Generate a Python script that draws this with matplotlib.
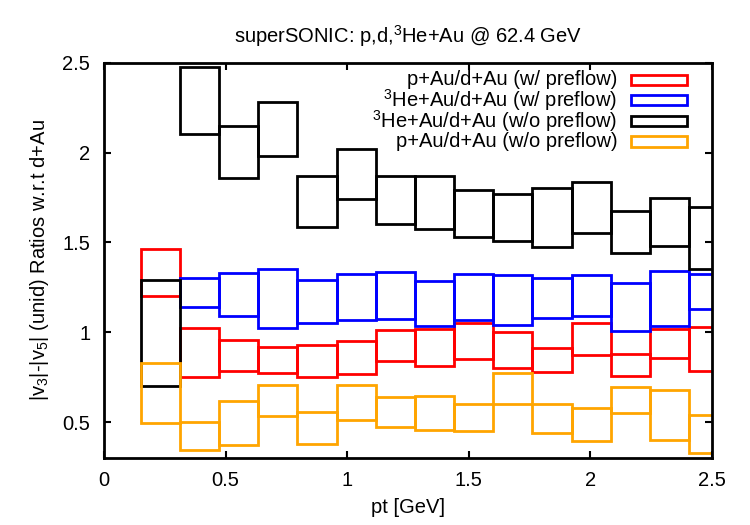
import numpy as np
import matplotlib
matplotlib.use("Agg")
import matplotlib.pyplot as plt
from matplotlib.patches import Rectangle

plt.rcParams['font.family'] = ['Liberation Sans', 'DejaVu Sans']
plt.rcParams['mathtext.default'] = 'regular'
plt.rcParams['font.size'] = 14.5

# pt bin centres and width [GeV]
pt = np.array([0.232, 0.393, 0.554, 0.715, 0.876, 1.037, 1.198, 1.359,
               1.520, 1.681, 1.842, 2.003, 2.164, 2.325, 2.486])
bin_w = 0.161

# p+Au/d+Au (w/ preflow): low, high
pau_lo = [1.203, 0.750, 0.786, 0.771, 0.751, 0.769, 0.842, 0.812, 0.851, 0.799, 0.780, 0.875, 0.758, 0.855, 0.786]
pau_hi = [1.462, 1.025, 0.959, 0.916, 0.931, 0.950, 1.015, 1.019, 1.054, 1.004, 0.913, 1.050, 0.881, 1.019, 1.028]

# 3He+Au/d+Au (w/ preflow), no first bin
he_lo = [np.nan, 1.140, 1.093, 1.021, 1.050, 1.069, 1.075, 1.032, 1.069, 1.041, 1.078, 1.092, 1.009, 1.034, 1.127]
he_hi = [np.nan, 1.302, 1.332, 1.350, 1.293, 1.326, 1.333, 1.283, 1.322, 1.320, 1.302, 1.317, 1.274, 1.339, 1.326]

# 3He+Au/d+Au (w/o preflow)
he_np_lo = [0.702, 2.104, 1.857, 1.978, 1.583, 1.740, 1.600, 1.572, 1.531, 1.507, 1.475, 1.550, 1.443, 1.479, 1.350]
he_np_hi = [1.293, 2.475, 2.149, 2.279, 1.870, 2.019, 1.870, 1.870, 1.792, 1.768, 1.801, 1.838, 1.674, 1.745, 1.698]

# p+Au/d+Au (w/o preflow)
pau_np_lo = [0.497, 0.343, 0.371, 0.533, 0.380, 0.511, 0.473, 0.458, 0.451, 0.602, 0.440, 0.397, 0.553, 0.402, 0.326]
pau_np_hi = [0.827, 0.501, 0.620, 0.708, 0.557, 0.704, 0.642, 0.646, 0.602, 0.771, 0.602, 0.576, 0.697, 0.678, 0.540]

series = [
    ("p+Au/d+Au (w/ preflow)", pau_lo, pau_hi, "#ff0000"),
    ("$^3$He+Au/d+Au (w/ preflow)", he_lo, he_hi, "#0000ff"),
    ("$^3$He+Au/d+Au (w/o preflow)", he_np_lo, he_np_hi, "#000000"),
    ("p+Au/d+Au (w/o preflow)", pau_np_lo, pau_np_hi, "#ffa500"),
]

fig = plt.figure(figsize=(7.5, 5.25), dpi=100)
ax = fig.add_axes([0.1387, 0.1276, 0.8106, 0.753])

for label, lo, hi, col in series:
    lo = np.array(lo)
    hi = np.array(hi)
    ok = ~np.isnan(lo)
    ax.bar(pt[ok], hi[ok] - lo[ok], width=bin_w, bottom=lo[ok], fill=False,
           edgecolor=col, linewidth=2.0)

# gnuplot-style key: right aligned text, sample box on the right
for i, (label, lo, hi, col) in enumerate(series):
    yk = 0.957 - i * 0.0522
    ax.text(0.844, yk, label, transform=ax.transAxes, ha='right', va='center')
    ax.add_patch(Rectangle((0.866, yk - 0.013), 0.093, 0.026, transform=ax.transAxes,
                           fill=False, edgecolor=col, linewidth=2.0, clip_on=False))

ax.set_xlim(0, 2.5)
ax.set_ylim(0.3, 2.5)
ax.set_xticks([0, 0.5, 1, 1.5, 2, 2.5])
ax.set_xticklabels(["0", "0.5", "1", "1.5", "2", "2.5"])
ax.set_yticks([0.5, 1, 1.5, 2, 2.5])
ax.set_yticklabels(["0.5", "1", "1.5", "2", "2.5"])
ax.tick_params(direction='in', length=5, width=1.5, top=True, right=True)
ax.tick_params(axis='x', pad=9)
ax.tick_params(axis='y', pad=10)
for sp in ax.spines.values():
    sp.set_linewidth(2.0)

ax.set_xlabel("pt [GeV]", labelpad=6)
ax.set_ylabel("|v$_3$|-|v$_5$| (unid) Ratios w.r.t d+Au", labelpad=8)
ax.set_title("superSONIC: p,d,$^3$He+Au @ 62.4 GeV", pad=14, fontsize=14.5)

fig.savefig("out.png", dpi=100)
